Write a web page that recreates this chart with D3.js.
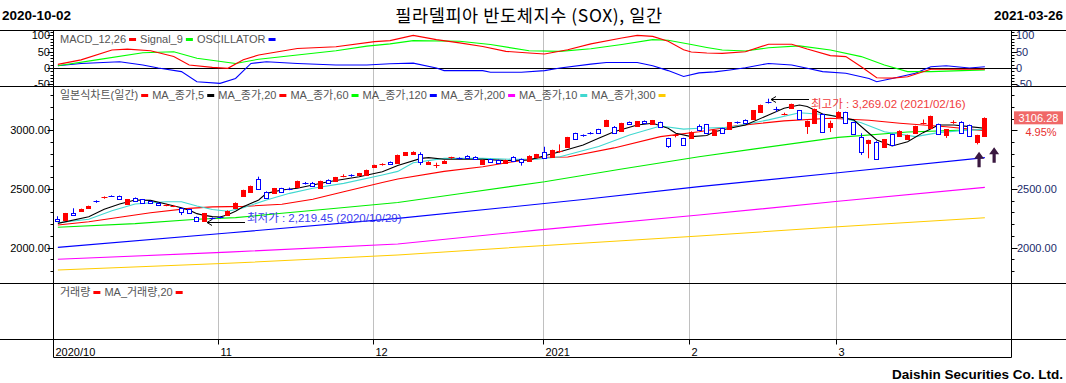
<!DOCTYPE html>
<html><head><meta charset="utf-8">
<script src="https://cdn.jsdelivr.net/npm/d3@7"></script>
<style>
body{margin:0;background:#fff;}
svg{display:block;}
text{font-family:"Liberation Sans",Arial,"Noto Sans CJK KR",sans-serif;}
</style>
</head><body>
<svg id="c" width="1066" height="383"></svg>
<script>
// ---------------- DATA ----------------
const dates = [
"2020-10-02","2020-10-05","2020-10-06","2020-10-07","2020-10-08","2020-10-09","2020-10-12","2020-10-13","2020-10-14","2020-10-15","2020-10-16",
"2020-10-19","2020-10-20","2020-10-21","2020-10-22","2020-10-23","2020-10-26","2020-10-27","2020-10-28","2020-10-29","2020-10-30",
"2020-11-02","2020-11-03","2020-11-04","2020-11-05","2020-11-06","2020-11-09","2020-11-10","2020-11-11","2020-11-12","2020-11-13",
"2020-11-16","2020-11-17","2020-11-18","2020-11-19","2020-11-20","2020-11-23","2020-11-24","2020-11-25","2020-11-26","2020-11-27",
"2020-12-01","2020-12-02","2020-12-03","2020-12-04","2020-12-07","2020-12-08","2020-12-09","2020-12-10","2020-12-11",
"2020-12-14","2020-12-15","2020-12-16","2020-12-17","2020-12-18","2020-12-21","2020-12-22","2020-12-23","2020-12-24",
"2020-12-28","2020-12-29","2020-12-30","2020-12-31",
"2021-01-04","2021-01-05","2021-01-06","2021-01-07","2021-01-08","2021-01-11","2021-01-12","2021-01-13","2021-01-14","2021-01-15",
"2021-01-19","2021-01-20","2021-01-21","2021-01-22","2021-01-25","2021-01-26","2021-01-27","2021-01-28","2021-01-29",
"2021-02-01","2021-02-02","2021-02-03","2021-02-04","2021-02-05","2021-02-08","2021-02-09","2021-02-10","2021-02-11","2021-02-12",
"2021-02-16","2021-02-17","2021-02-18","2021-02-19","2021-02-22","2021-02-23","2021-02-24","2021-02-25","2021-02-26",
"2021-03-01","2021-03-02","2021-03-03","2021-03-04","2021-03-05","2021-03-08","2021-03-09","2021-03-10","2021-03-11","2021-03-12",
"2021-03-15","2021-03-16","2021-03-17","2021-03-18","2021-03-19","2021-03-22","2021-03-23","2021-03-24","2021-03-25","2021-03-26"
];
// [open, high, low, close]
const ohlc = [
[2245,2268,2224,2228],[2238,2296,2235,2293],[2293,2336,2272,2276],[2310,2333,2306,2330],[2341,2358,2338,2355],[2394,2404,2382,2391],
[2420,2437,2417,2434],[2442,2446,2432,2439],[2440,2444,2410,2412],[2372,2414,2368,2412],[2420,2428,2398,2400],
[2412,2415,2377,2380],[2398,2402,2375,2378],[2383,2386,2361,2364],[2363,2374,2353,2367],[2353,2364,2346,2357],
[2335,2338,2278,2301],[2327,2330,2290,2293],[2262,2265,2222,2225],[2224,2296,2219.45,2293],[2252,2258,2240,2249],
[2262,2268,2250,2258],[2276,2318,2272,2315],[2338,2386,2334,2383],[2443,2494,2440,2491],[2477,2529,2474,2526],
[2585,2605,2494,2497],[2477,2480,2416,2420],[2463,2509,2460,2506],[2506,2510,2470,2475],[2502,2512,2490,2498],
[2520,2571,2517,2568],[2550,2560,2538,2546],[2554,2560,2522,2526],[2506,2571,2503,2568],[2577,2582,2545,2548],
[2566,2603,2563,2600],[2610,2625,2600,2614],[2616,2626,2604,2612],[2620,2637,2617,2634],[2620,2665,2617,2662],
[2685,2707,2682,2704],[2702,2719,2699,2716],[2730,2734,2709,2712],[2719,2793,2716,2790],[2787,2814,2784,2811],
[2800,2821,2797,2818],[2795,2813,2704,2727],[2710,2736,2707,2733],[2702,2724,2678,2706],[2719,2745,2716,2742],
[2765,2775,2755,2769],[2763,2770,2750,2759],[2784,2788,2764,2767],[2775,2779,2753,2756],[2710,2750,2707,2747],
[2753,2757,2730,2733],[2747,2750,2716,2719],[2724,2750,2721,2747],[2775,2779,2736,2739],[2756,2760,2699,2733],
[2742,2787,2739,2784],[2775,2799,2772,2796],
[2813,2860,2764,2767],[2775,2835,2772,2832],[2816,2880,2808,2820],[2860,2944,2857,2941],[2975,2979,2922,2926],
[2957,2965,2945,2953],[2977,2985,2965,2973],[3009,3013,2977,2980],[3040,3090,3036,3085],[3032,3036,2970,2975],
[2990,3064,2986,3060],[3070,3075,3046,3050],[3040,3078,3036,3075],[3080,3084,3056,3060],[3050,3088,3046,3085],
[3070,3074,3026,3030],[2932,2936,2850,2867],[2953,2968,2940,2957],[2932,2936,2870,2875],
[2932,2991,2928,2988],[3040,3050,3000,3005],[3050,3054,2976,2980],[2960,3005,2956,3002],[3017,3021,2971,2975],
[3011,3070,3008,3067],[3067,3075,3055,3063],[3089,3093,3058,3061],[3097,3172,3094,3169],[3159,3219,3156,3216],
[3240,3269.02,3228,3236],[3184,3200,3158,3180],[3137,3150,3128,3141],[3188,3227,3185,3224],[3169,3173,3093,3096],
[3036,3083,2969,3080],[3062,3185,3059,3182],[3139,3143,2985,2988],[3031,3082,2985,3065],
[3111,3162,3108,3159],[3154,3158,3058,3061],[3067,3071,2962,2965],[2940,2975,2790,2818],[2889,2920,2762,2917],
[2903,2907,2750,2753],[2855,2926,2852,2923],[2966,2970,2872,2875],[2954,3000,2951,2997],[2923,2963,2920,2960],
[2975,3039,2972,3036],[3059,3092,3050,3063],[3017,3125,3014,3122],[3053,3057,2965,2968],[2960,3011,2935,3008],
[3063,3085,3055,3067],[3073,3077,2977,2980],[3045,3049,2951,2954],[2900,2962,2880,2959.8],[2954,3110,2950,3106.28]
];
// moving averages: [date index, value]
const ma5 = [[0,2207],[4,2264],[6,2327],[8,2372],[10,2406],[12,2403],[14,2372],[16,2340],[17,2320],[18,2290],[19,2275],[20,2265],[21,2262],[22,2280],[23,2310],[24,2349],[26,2406],[27,2463],[29,2491],[31,2506],[33,2534],[35,2562],[37,2583],[39,2605],[42,2647],[44,2700],[47,2761],[48,2767],[50,2753],[53,2753],[55,2753],[58,2742],[61,2747],[63,2784],[65,2818],[68,2875],[70,2932],[72,2988],[75,3045],[77,3060],[79,3017],[80,2975],[82,2946],[84,2955],[85,2988],[87,3017],[89,3045],[92,3130],[94,3188],[96,3216],[97,3202],[99,3139],[101,3116],[103,3089],[105,2975],[106,2918],[108,2866],[110,2903],[112,2980],[114,3045],[116,3045],[118,3031],[120,3017]];
const ma10 = [[0,2213],[4,2242],[7,2315],[10,2372],[14,2392],[16,2392],[18,2355],[20,2325],[22,2310],[24,2340],[27,2406],[30,2463],[33,2506],[37,2548],[42,2619],[44,2650],[46,2724],[50,2761],[55,2761],[59,2753],[62,2753],[65,2775],[70,2862],[74,2960],[78,3036],[81,3010],[83,3017],[87,3025],[92,3089],[96,3150],[100,3130],[104,3065],[107,2988],[111,2946],[114,2980],[118,3002],[120,3008]];
const ma20 = [[0,2193],[4,2221],[8,2259],[12,2298],[17,2335],[20,2348],[24,2352],[29,2370],[33,2412],[37,2477],[42,2555],[44,2585],[50,2650],[55,2690],[59,2733],[63,2770],[66,2772],[72,2850],[78,2946],[83,2988],[88,3040],[94,3080],[100,3102],[105,3085],[109,3060],[115,3030],[120,2997]];
const ma60 = [[0,2174],[10,2205],[18,2242],[23,2256],[29,2293],[35,2330],[44,2385],[52,2460],[63,2562],[73,2670],[83,2775],[90,2840],[101,2940],[110,2985],[120,3008]];
const ma120 = [[0,2003],[22,2125],[44,2250],[68,2410],[83,2520],[101,2639],[120,2767]];
const ma200 = [[0,1901],[22,1962],[44,2031],[62,2150],[83,2278],[101,2395],[120,2514]];
const ma300 = [[0,1810],[22,1867],[44,1938],[62,2015],[83,2100],[101,2178],[120,2255]];
// MACD panel
const macd = [[0,11],[3,25],[7,55],[9,58],[12,53],[15,35],[17,9],[20,2],[22,-1],[24,25],[26,40],[31,60],[36,65],[41,81],[43,84],[46,100],[49,87],[52,77],[55,66],[58,51],[61,46],[63,43],[66,56],[69,74],[73,92],[75,100],[77,97],[79,82],[81,56],[82,49],[84,46],[86,45],[89,50],[92,73],[95,73],[97,58],[100,38],[102,35],[104,4],[106,-30],[108,-31],[110,-27],[113,-4],[116,-4],[120,-4]];
const signal9 = [[0,7],[5,25],[11,47],[15,50],[18,30],[23,14],[26,27],[31,40],[36,53],[40,67],[43,74],[46,84],[52,82],[56,72],[61,53],[65,51],[69,59],[73,72],[77,87],[79,85],[82,72],[84,63],[86,55],[89,52],[92,62],[96,68],[100,55],[104,35],[107,9],[110,-11],[113,-11],[117,-8],[120,-6]];
const oscillator = [[0,7],[3,14],[8,19],[11,9],[13,0],[16,-11],[18,-42],[21,-47],[23,-32],[25,14],[27,19],[31,14],[36,9],[40,9],[43,13],[46,15],[49,0],[50,-8],[55,-8],[56,-13],[60,-13],[63,-8],[65,0],[69,12],[71,17],[75,17],[77,7],[79,-8],[81,-26],[83,-15],[85,-12],[87,-6],[89,1],[92,14],[95,9],[97,-1],[99,-11],[102,-16],[105,-32],[106,-42],[108,-32],[111,-16],[113,4],[115,7],[118,0],[120,4]];
// ticks / labels
const monthTicks = [["2020-10-02","2020/10"],["2020-11-02","11"],["2020-12-01","12"],["2021-01-04","2021"],["2021-02-01","2"],["2021-03-01","3"]];
const priceTicksLeft = [2000,2500,3000];
const priceTicksRight = [2000,2500];
const macdTicks = [-50,0,50,100];
const maxInfo = {idx:92, value:3269.02, label:"최고가 : 3,269.02 (2021/02/16)"};
const minInfo = {idx:19, value:2219.45, label:"최저가 : 2,219.45 (2020/10/29)"};
const lastPrice = 3106.28, lastChange = "4.95%";
const signalArrows = [[119,2818,0.25],[120,2855,1.2]];
const title = "필라델피아 반도체지수 (SOX), 일간";
const startLabel = "2020-10-02", endLabel = "2021-03-26";

// ---------------- DRAW ----------------
const svg = d3.select("#c");
const X0 = 54, X1 = 1012;
const step = 7.725;
const x = d3.scaleBand().domain(dates).range([X0, X0 + step*dates.length]);
const cxI = i => x(dates[i]) + x.bandwidth()/2;
const yP = d3.scaleLinear().domain([2000,3000]).range([247.7,130.3]);
const yM = d3.scaleLinear().domain([-50,100]).range([84.3,35.4]);
const PT = {mTop:30.5, mBot:86.5, pBot:283.5, vBot:339.5, aBot:357.5};

const defs = svg.append("defs");
defs.append("clipPath").attr("id","clipM").append("rect").attr("x",X0).attr("y",PT.mTop).attr("width",X1-X0).attr("height",PT.mBot-PT.mTop);
defs.append("clipPath").attr("id","clipP").append("rect").attr("x",X0).attr("y",PT.mBot).attr("width",X1-X0).attr("height",PT.pBot-PT.mBot);
defs.append("clipPath").attr("id","clipML").append("rect").attr("x",0).attr("y",PT.mTop).attr("width",1066).attr("height",PT.mBot-PT.mTop);
defs.append("clipPath").attr("id","clipPL").append("rect").attr("x",0).attr("y",PT.mBot).attr("width",1066).attr("height",PT.pBot-PT.mBot);

// header
svg.append("text").attr("x",2).attr("y",19.5).attr("font-size",13.5).attr("font-weight","bold").text(startLabel);
svg.append("text").attr("x",1063).attr("y",19.5).attr("text-anchor","end").attr("font-size",13.5).attr("font-weight","bold").text(endLabel);
svg.append("text").attr("x",529).attr("y",21.5).attr("text-anchor","middle").attr("font-size",17.5).attr("letter-spacing",0.6)
  .style("font-family",'"Noto Sans CJK KR",sans-serif').text(title);

// gridlines
const gridX = d => Math.round(cxI(dates.indexOf(d)) - 2) + 0.5;
monthTicks.slice(1).forEach(([d]) => {
  svg.append("line").attr("x1",gridX(d)).attr("x2",gridX(d)).attr("y1",PT.mTop).attr("y2",PT.vBot).attr("stroke","#c0c0c0");
});

// frame
[PT.mTop, PT.mBot, PT.pBot, PT.vBot].forEach(y => svg.append("line").attr("x1",0).attr("x2",1066).attr("y1",y).attr("y2",y).attr("stroke","#000"));
svg.append("line").attr("x1",X0-0.5).attr("x2",X1-0.5).attr("y1",PT.aBot).attr("y2",PT.aBot).attr("stroke","#000");
svg.append("line").attr("x1",X0-0.5).attr("x2",X0-0.5).attr("y1",PT.mTop).attr("y2",PT.aBot).attr("stroke","#000");
svg.append("line").attr("x1",X1-0.5).attr("x2",X1-0.5).attr("y1",PT.mTop).attr("y2",PT.aBot).attr("stroke","#000");

// axis tick helper
function vTicks(scale, vals, side, len, clip){
  const g = svg.append("g").attr("clip-path",clip);
  vals.forEach(v=>{
    const y = Math.round(scale(v))+0.5;
    if (side==="L") g.append("line").attr("x1",X0-0.5-len).attr("x2",X0-0.5).attr("y1",y).attr("y2",y).attr("stroke","#000");
    else g.append("line").attr("x1",X1-0.5).attr("x2",X1-0.5+len).attr("y1",y).attr("y2",y).attr("stroke","#000");
  });
  return g;
}
// MACD axes
const macdMinor = d3.range(-60,111,10);
vTicks(yM, macdMinor, "L", 3, "url(#clipML)");
vTicks(yM, macdMinor, "R", 3, "url(#clipML)");
vTicks(yM, macdTicks, "L", 6, "url(#clipML)");
vTicks(yM, macdTicks, "R", 6, "url(#clipML)");
const mlab = svg.append("g").attr("clip-path","url(#clipML)").attr("font-size",11);
macdTicks.forEach(v=>{
  mlab.append("text").attr("x",50).attr("y",yM(v)+4).attr("text-anchor","end").attr("fill","#000").text(v);
  mlab.append("text").attr("x",1016).attr("y",yM(v)+4).attr("fill","#1a2a6a").text(v);
});
// zero line
svg.append("line").attr("x1",X0).attr("x2",X1-0.5).attr("y1",Math.round(yM(0))+0.5).attr("y2",Math.round(yM(0))+0.5).attr("stroke","#000");

// MACD lines
const lineM = d3.line().x(d=>cxI(d[0])).y(d=>yM(d[1]));
const gM = svg.append("g").attr("clip-path","url(#clipM)").attr("fill","none").attr("stroke-width",1.1);
gM.append("path").attr("d",lineM(oscillator)).attr("stroke","#0000ff");
gM.append("path").attr("d",lineM(signal9)).attr("stroke","#00ff00");
gM.append("path").attr("d",lineM(macd)).attr("stroke","#ff0000");

// price axes
const priceMinor = d3.range(1700,3401,100);
vTicks(yP, priceMinor, "L", 3, "url(#clipPL)");
vTicks(yP, priceMinor, "R", 3, "url(#clipPL)");
vTicks(yP, priceTicksLeft, "L", 6, "url(#clipPL)");
vTicks(yP, priceTicksLeft, "R", 6, "url(#clipPL)");
const fmt = d3.format(".2f");
priceTicksLeft.forEach(v=> svg.append("text").attr("x",50).attr("y",yP(v)+4).attr("text-anchor","end").attr("font-size",11).text(fmt(v)));
priceTicksRight.forEach(v=> svg.append("text").attr("x",1017).attr("y",yP(v)+4).attr("font-size",11).attr("fill","#1a2a6a").text(fmt(v)));

// MA lines
const lineP = d3.line().x(d=>cxI(d[0])).y(d=>yP(d[1]));
const gP = svg.append("g").attr("clip-path","url(#clipP)");
const gL = gP.append("g").attr("fill","none").attr("stroke-width",1.1);
[[ma300,"#ffcc00"],[ma200,"#ff00ff"],[ma120,"#0000ff"],[ma60,"#00ee00"],[ma20,"#ff0000"],[ma10,"#40d8d0"],[ma5,"#000000"]]
  .forEach(([s,c]) => gL.append("path").attr("d",lineP(s)).attr("stroke",c));

// candles
const gC = gP.append("g");
ohlc.forEach((k,i)=>{
  const [o,h,l,c] = k;
  const up = c >= o;
  const col = up ? "#ff0000" : "#0000ff";
  const cx = Math.floor(cxI(i)) + 0.5;
  const yt = Math.round(yP(Math.max(o,c))) + 0.5;
  const yb = Math.round(yP(Math.min(o,c))) + 0.5;
  gC.append("line").attr("x1",cx).attr("x2",cx).attr("y1",yP(h)).attr("y2",yP(l)).attr("stroke",col);
  if (yb - yt < 1.5) {
    gC.append("line").attr("x1",cx-3).attr("x2",cx+3).attr("y1",yt).attr("y2",yt).attr("stroke",col);
  } else {
    gC.append("rect").attr("x",cx-2).attr("y",yt).attr("width",4).attr("height",yb-yt)
      .attr("fill", up ? "#ff0000" : "#ffffff").attr("stroke",col);
  }
});

// max / min annotations
function annot(info, color, below){
  const xs = Math.floor(cxI(info.idx)) + 3;
  const yy = Math.round(yP(info.value)) + 0.5;
  const xe = xs + 38;
  gP.append("line").attr("x1",xs).attr("x2",xe).attr("y1",yy).attr("y2",yy).attr("stroke","#000");
  gP.append("path").attr("d",`M${xs+5},${yy-3}L${xs},${yy}L${xs+5},${yy+3}`).attr("fill","none").attr("stroke","#000");
  svg.append("text").attr("x",xe+2).attr("y", below ? yy+8.5 : yy-0.5).attr("font-size",11.5).attr("fill",color)
    .style("font-family",'"Liberation Sans","Noto Sans CJK KR",sans-serif').text(info.label);
}
annot(maxInfo, "#f03c3c", true);
annot(minInfo, "#3c3cf0", false);

// signal arrows
signalArrows.forEach(([i,v,off])=>{
  const tx = cxI(i) + off*step, ty = yP(v);
  svg.append("path").attr("d",`M${tx},${ty}L${tx+5},${ty+7}L${tx+1.6},${ty+7}L${tx+1.6},${ty+15.5}L${tx-1.6},${ty+15.5}L${tx-1.6},${ty+7}L${tx-5},${ty+7}Z`)
    .attr("fill","#3a1840");
});

// last price box
const yl = yP(lastPrice);
svg.append("rect").attr("x",1014).attr("y",yl-6.5).attr("width",49).attr("height",13).attr("fill","#f06868");
svg.append("text").attr("x",1038.5).attr("y",yl+4).attr("text-anchor","middle").attr("font-size",11).attr("fill","#fff").text(lastPrice.toFixed(2));
svg.append("text").attr("x",1041).attr("y",yl+18.5).attr("text-anchor","middle").attr("font-size",11).attr("fill","#e83030").text(lastChange);

// legends
function legend(y, items){
  let xx = 60;
  items.forEach(([name,color])=>{
    const t = svg.append("text").attr("x",xx).attr("y",y).attr("font-size",11).attr("fill","#555").text(name);
    xx += t.node().getComputedTextLength() + 3;
    svg.append("rect").attr("x",xx).attr("y",y-5).attr("width",7).attr("height",3).attr("fill",color);
    xx += 11;
  });
}
legend(43, [["MACD_12,26","#ff0000"],["Signal_9","#00ff00"],["OSCILLATOR","#0000ff"]]);
legend(99, [["일본식차트(일간)","#ff0000"],["MA_종가,5","#000000"],["MA_종가,20","#ff0000"],["MA_종가,60","#00ff00"],["MA_종가,120","#0000ff"],["MA_종가,200","#ff00ff"],["MA_종가,10","#40d8d0"],["MA_종가,300","#ffcc00"]]);
legend(296, [["거래량","#ff0000"],["MA_거래량,20","#ff0000"]]);

// x axis
monthTicks.forEach(([d,lab],k)=>{
  const gx = k===0 ? X0-0.5 : gridX(d);
  svg.append("line").attr("x1",gx).attr("x2",gx).attr("y1",PT.vBot).attr("y2",PT.vBot+5).attr("stroke","#000");
  svg.append("text").attr("x",gx+2).attr("y",355.5).attr("font-size",11).text(lab);
});

// footer
svg.append("text").attr("x",1063).attr("y",379).attr("text-anchor","end").attr("font-size",13.5).attr("font-weight","bold")
  .text("Daishin Securities Co. Ltd.");
</script>
</body></html>
